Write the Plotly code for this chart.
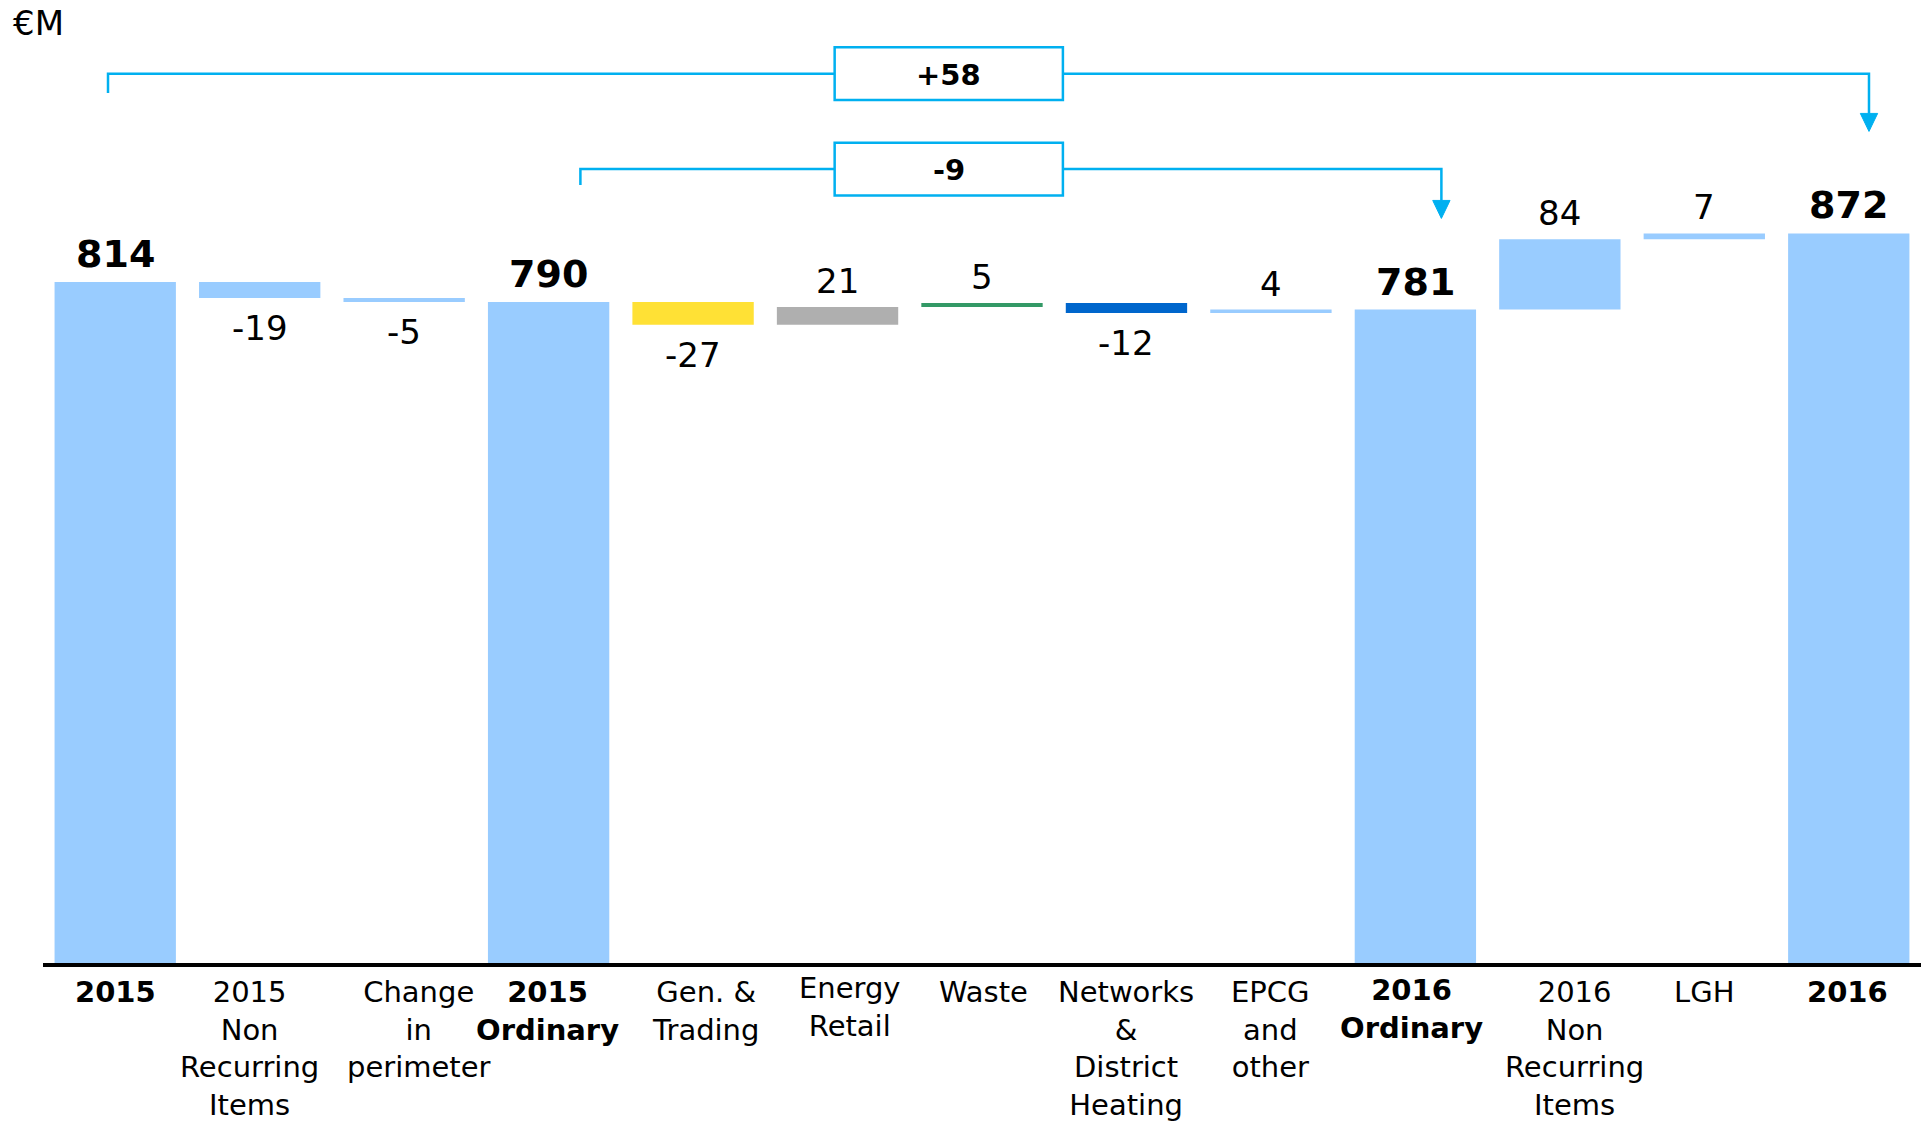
import plotly.graph_objects as go

# ---- data -------------------------------------------------------------
categories = [
    "2015", "2015\nNon\nRecurring\nItems", "Change\nin\nperimeter",
    "2015\nOrdinary", "Gen. &\nTrading", "Energy\nRetail", "Waste",
    "Networks\n&\nDistrict\nHeating", "EPCG\nand\nother", "2016\nOrdinary",
    "2016\nNon\nRecurring\nItems", "LGH", "2016",
]
values = [814, -19, -5, 790, -27, 21, 5, -12, 4, 781, 84, 7, 872]
measures = ["total", "relative", "relative", "total", "relative", "relative",
            "relative", "relative", "relative", "total", "relative", "relative",
            "total"]
unit_label = "€M"

# ---- styling ----------------------------------------------------------
LIGHT_BLUE = "#99CCFF"
bar_colors = [LIGHT_BLUE, LIGHT_BLUE, LIGHT_BLUE, LIGHT_BLUE, "#FFE135",
              "#AFAFAF", "#339966", "#0066CC", LIGHT_BLUE, LIGHT_BLUE,
              LIGHT_BLUE, LIGHT_BLUE, LIGHT_BLUE]
BRACKET = "#00B0F0"
FONT = "Verdana, DejaVu Sans, sans-serif"

# horizontal / vertical (upward) nudges in px of the captions below the axis
label_dx = [0, -10, 15, -1, 12, 12, 1, 0, 0, -4, 15, 0, -1]
label_dy = [0, 0, 0, 0, 0, 4, 0, 0, 0, 2, 0, 0, 0]

W, H = 1924, 1123
M_L, M_R, M_T, M_B = 43, 3, 20, 160
PX_PER_UNIT = 0.8366
y_top = (H - M_T - M_B) / PX_PER_UNIT
u = 1 / PX_PER_UNIT  # data units per pixel

# ---- waterfall geometry ----------------------------------------------
bases, heights, running = [], [], 0
for v, m in zip(values, measures):
    if m == "total":
        bases.append(0)
        heights.append(v)
        running = v
    else:
        start, end = running, running + v
        bases.append(min(start, end))
        heights.append(abs(v))
        running = end

x = list(range(len(categories)))

fig = go.Figure(go.Bar(
    x=x, y=heights, base=bases,
    marker=dict(color=bar_colors, line=dict(width=0)),
    hoverinfo="skip",
))

annotations = []

# value labels
for i, (v, m, b, h) in enumerate(zip(values, measures, bases, heights)):
    if m == "total":
        annotations.append(dict(x=i, y=b + h, text=f"<b>{v}</b>", showarrow=False,
                                yanchor="bottom", yshift=4,
                                font=dict(size=38, color="black", family=FONT)))
    elif v >= 0:
        annotations.append(dict(x=i, y=b + h, text=f"{v}", showarrow=False,
                                yanchor="bottom", yshift=4,
                                font=dict(size=34, color="black", family=FONT)))
    else:
        annotations.append(dict(x=i, y=b, text=f"{v}", showarrow=False,
                                yanchor="top", yshift=-8,
                                font=dict(size=34, color="black", family=FONT)))

# category captions
for i, (c, m) in enumerate(zip(categories, measures)):
    t = c.replace("\n", "<br>")
    if m == "total":
        t = f"<b>{t}</b>"
    annotations.append(dict(x=i, xref="x", y=0, yref="paper", text=t,
                            showarrow=False, xanchor="center", yanchor="top",
                            align="center", xshift=label_dx[i],
                            yshift=-10 + label_dy[i],
                            font=dict(size=29, color="black", family=FONT)))

# ---- comparison brackets ---------------------------------------------
brackets = [
    dict(start=0, end=12, x0=-0.05, x1=12.14, level=1063, drop=1040, tip=994),
    dict(start=3, end=9, x0=3.22, x1=9.18, level=949, drop=930, tip=890),
]
BOX_CX, BOX_HALF_W, BOX_HALF_H = 5.77, 0.79, 31.5
HEAD_H, HEAD_HALF_W = 18 * u, 0.06

shapes = []
for br in brackets:
    diff = values[br["end"]] - values[br["start"]]
    shapes.append(dict(
        type="path", xref="x", yref="y",
        path=(f"M {br['x0']},{br['drop']} L {br['x0']},{br['level']} "
              f"L {br['x1']},{br['level']} L {br['x1']},{br['tip'] + HEAD_H}"),
        line=dict(color=BRACKET, width=2.5),
    ))
    shapes.append(dict(
        type="path", xref="x", yref="y",
        path=(f"M {br['x1'] - HEAD_HALF_W},{br['tip'] + HEAD_H} "
              f"L {br['x1'] + HEAD_HALF_W},{br['tip'] + HEAD_H} "
              f"L {br['x1']},{br['tip']} Z"),
        fillcolor=BRACKET, line=dict(color=BRACKET, width=1),
    ))
    shapes.append(dict(
        type="rect", xref="x", yref="y",
        x0=BOX_CX - BOX_HALF_W, x1=BOX_CX + BOX_HALF_W,
        y0=br["level"] - BOX_HALF_H, y1=br["level"] + BOX_HALF_H,
        fillcolor="white", line=dict(color=BRACKET, width=2.5),
    ))
    annotations.append(dict(x=BOX_CX, y=br["level"], text=f"<b>{diff:+d}</b>",
                            showarrow=False, yanchor="middle", yshift=-1,
                            font=dict(size=29, color="black", family=FONT)))

annotations.append(dict(xref="paper", yref="paper", x=0, y=1, xanchor="left",
                        yanchor="top", xshift=-32, yshift=19, text=unit_label,
                        showarrow=False,
                        font=dict(size=34, color="black", family=FONT)))

fig.update_layout(
    width=W, height=H,
    margin=dict(l=M_L, r=M_R, t=M_T, b=M_B),
    paper_bgcolor="white", plot_bgcolor="white",
    bargap=0.16, showlegend=False,
    shapes=shapes, annotations=annotations,
    xaxis=dict(range=[-0.5, len(categories) - 0.5], showticklabels=False,
               showgrid=False, zeroline=False, showline=True,
               linecolor="black", linewidth=4, ticks="", automargin=False),
    yaxis=dict(range=[0, y_top], visible=False, showgrid=False),
)

fig.write_html("out.html")
